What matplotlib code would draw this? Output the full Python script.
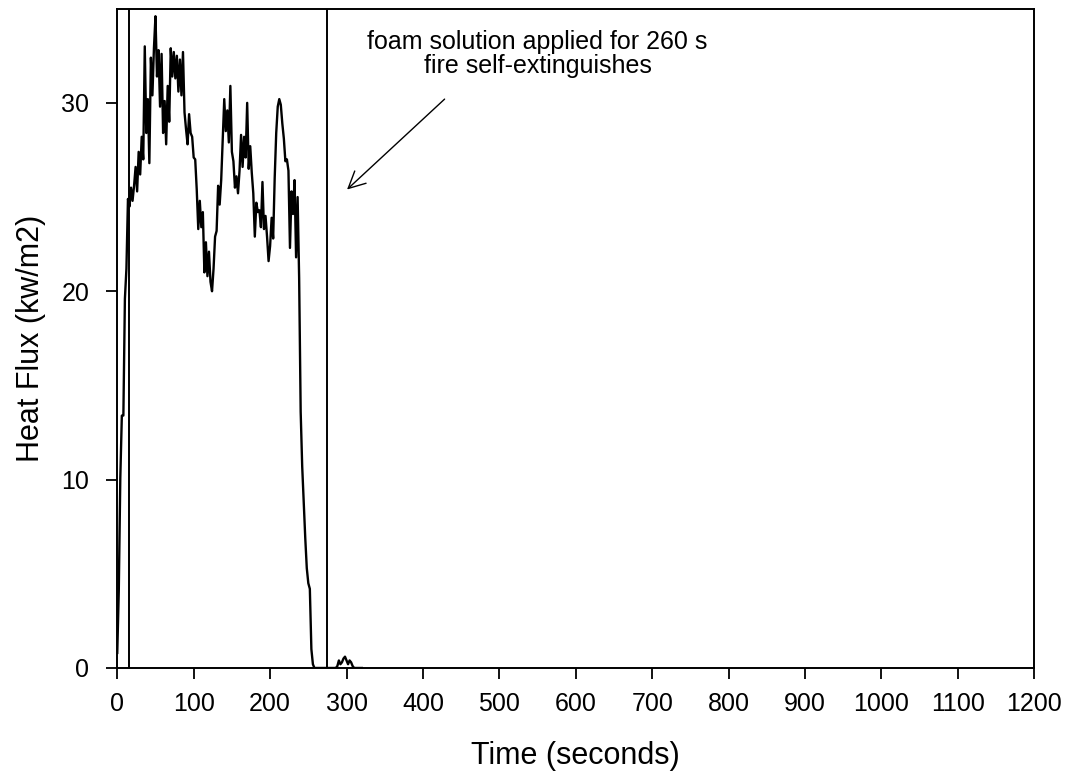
import matplotlib
matplotlib.use("Agg")
import matplotlib.pyplot as plt
import numpy as np

plt.rcParams['font.family'] = ['Liberation Sans', 'DejaVu Sans']

# ---------------- data ----------------
# heat flux, one reading every 2 s from t = 0
sample_step = 2
heat_flux = [
    0.8, 4.1, 10.1, 13.4, 13.4, 19.6, 21.2, 24.9, 24.5, 25.5,
    24.8, 25.6, 26.6, 25.3, 27.4, 26.2, 28.2, 27.0, 33.0, 28.4,
    30.2, 26.8, 32.4, 30.4, 32.9, 34.6, 31.4, 32.8, 29.8, 32.6,
    28.4, 30.1, 27.8, 30.9, 29.0, 32.9, 31.4, 32.7, 31.3, 32.5,
    30.6, 32.3, 30.4, 32.7, 29.5, 28.6, 27.8, 29.4, 28.4, 28.2,
    27.1, 27.0, 25.4, 23.3, 24.8, 23.4, 24.2, 21.0, 22.6, 20.8,
    22.1, 20.5, 20.0, 21.2, 22.9, 23.2, 25.6, 24.6, 25.9, 28.0,
    30.2, 28.5, 29.6, 27.9, 30.9, 27.4, 26.9, 25.5, 26.1, 25.2,
    26.4, 28.3, 26.6, 28.2, 27.1, 30.0, 26.5, 27.7, 26.3, 25.2,
    22.9, 24.7, 24.2, 24.3, 23.4, 25.8, 23.3, 24.0, 22.9, 21.6,
    22.4, 23.9, 22.8, 26.0, 28.4, 29.8, 30.2, 29.9, 28.9, 28.1,
    26.9, 27.0, 26.4, 22.3, 25.3, 24.1, 25.9, 21.8, 25.0, 20.7,
    13.6, 10.7, 8.8, 6.9, 5.3, 4.5, 4.2, 1.0, 0.2, 0.0,
    0.0, 0.0, 0.0, 0.0, 0.0, 0.0, 0.0, 0.0, 0.0, 0.0,
    0.0, 0.0, 0.0, 0.0, 0.1, 0.4, 0.2, 0.3, 0.5, 0.6,
    0.4, 0.2, 0.4, 0.3, 0.1, 0.0, 0.0, 0.0, 0.0, 0.0,
    0.0,
]
marker_times = [16, 275]   # vertical event lines
note_text = "foam solution applied for 260 s\nfire self-extinguishes"
note_xy = (550, 32.6)
arrow_tail = (431, 30.3)
arrow_head = (298, 25.3)

x_ticks = list(range(0, 1201, 100))
y_ticks = [0, 10, 20, 30]

time = np.arange(len(heat_flux)) * sample_step

# ---------------- plot ----------------
fig = plt.figure(figsize=(10.65, 7.76), dpi=100)
ax = fig.add_axes([0.1101, 0.1392, 0.8611, 0.8496])

ax.plot(time, heat_flux, color='black', lw=1.7)
for t in marker_times:
    ax.axvline(t, color='black', lw=1.4)

ax.annotate('', xy=arrow_head, xytext=arrow_tail,
            arrowprops=dict(arrowstyle='->', color='black', lw=1.0,
                            mutation_scale=30))
ax.text(note_xy[0], note_xy[1], note_text, ha='center', va='center',
        fontsize=18, linespacing=1.0)

ax.set_xlim(0, 1200)
ax.set_ylim(0, 35)
ax.set_xticks(x_ticks)
ax.set_yticks(y_ticks)
ax.tick_params(axis='x', direction='out', length=8, width=1.3, labelsize=18, pad=9)
ax.tick_params(axis='y', direction='out', length=8, width=1.3, labelsize=18, pad=12)
for s in ax.spines.values():
    s.set_linewidth(1.4)

ax.set_xlabel('Time (seconds)', fontsize=22)
ax.set_ylabel('Heat Flux (kw/m2)', fontsize=22)
ax.xaxis.set_label_coords(0.5, -0.111)
ax.yaxis.set_label_coords(-0.0772, 0.5)

fig.savefig('out.png', dpi=100)
